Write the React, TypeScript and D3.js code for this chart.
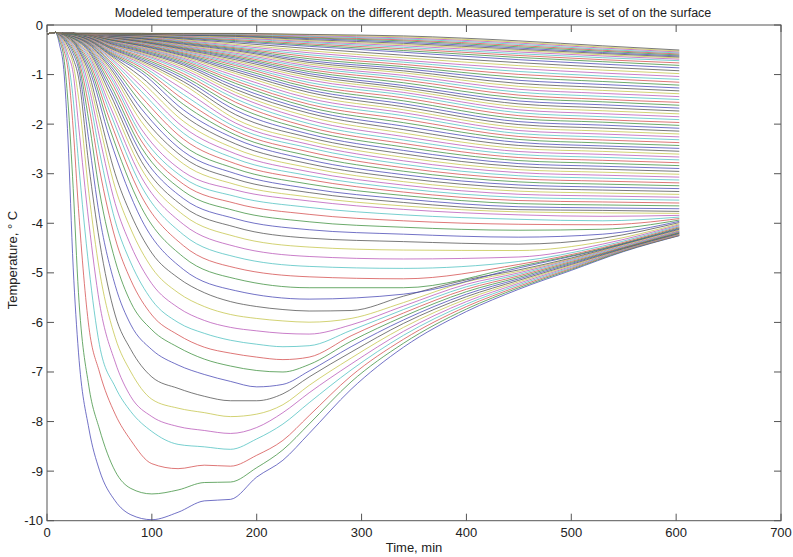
import React from "react";
import * as d3 from "d3";

const chartTitle =
  "Modeled temperature of the snowpack on the different depth. Measured temperature is set of on the surface";
const xLabel = "Time, min";
const yLabel = "Temperature, \u00b0 C";
const xTicks = [0, 100, 200, 300, 400, 500, 600, 700];
const yTicks = [0, -1, -2, -3, -4, -5, -6, -7, -8, -9, -10];

// MATLAB default colour order (as rendered, slightly washed out)
const lineColors = ["#4646b4", "#3c8f3c", "#d44c4c", "#4cc0c0", "#b856b8", "#c4c448", "#505050"];

// time grid for the 14 shallowest layers (lowest curves)
const timesShallow = [0, 8, 12, 16, 20, 25, 30, 40, 50, 65, 80, 100, 125, 150, 175, 200, 225, 250, 290, 340, 400, 450, 500, 550, 603];
// time grid for deeper layers
const timesDeep = [0, 8, 15, 25, 40, 60, 90, 130, 180, 250, 340, 450, 530, 603];

const shallowTemps: number[][] = [
  [-0.18, -0.15, -0.4, -0.9, -2.3, -4.9, -6.6, -8.15, -8.98, -9.6, -9.88, -9.98, -9.83, -9.6, -9.57, -9.12, -8.78, -8.24, -7.35, -6.5, -5.78, -5.33, -4.95, -4.57, -4.25],
  [-0.18, -0.15, -0.32, -0.65, -1.55, -3.3, -5.4, -7.3, -8.15, -9.0, -9.35, -9.46, -9.38, -9.23, -9.22, -8.93, -8.57, -8.05, -7.2, -6.42, -5.73, -5.3, -4.93, -4.56, -4.245],
  [-0.18, -0.15, -0.27, -0.5, -0.9, -2.1, -3.7, -6.1, -7.0, -7.85, -8.38, -8.85, -8.95, -8.88, -8.9, -8.68, -8.38, -7.88, -7.08, -6.34, -5.68, -5.27, -4.91, -4.55, -4.24],
  [-0.18, -0.15, -0.24, -0.42, -0.72, -1.5, -2.75, -4.9, -6.45, -7.3, -7.8, -8.2, -8.46, -8.51, -8.56, -8.35, -8.05, -7.62, -6.96, -6.26, -5.63, -5.24, -4.89, -4.54, -4.23],
  [-0.18, -0.15, -0.22, -0.36, -0.6, -0.98, -2.0, -4.0, -5.6, -6.8, -7.5, -7.9, -8.1, -8.18, -8.24, -8.12, -7.82, -7.42, -6.84, -6.18, -5.58, -5.21, -4.87, -4.53, -4.225],
  [-0.18, -0.15, -0.21, -0.32, -0.5, -0.8, -1.45, -3.4, -4.95, -6.3, -7.0, -7.55, -7.73, -7.82, -7.9, -7.85, -7.66, -7.27, -6.72, -6.1, -5.53, -5.18, -4.85, -4.52, -4.215],
  [-0.18, -0.15, -0.2, -0.29, -0.43, -0.68, -1.05, -2.85, -4.35, -5.85, -6.55, -7.1, -7.33, -7.49, -7.58, -7.58, -7.44, -7.1, -6.6, -6.02, -5.48, -5.15, -4.83, -4.51, -4.205],
  [-0.18, -0.15, -0.19, -0.27, -0.38, -0.58, -0.88, -2.35, -3.85, -5.25, -6.05, -6.55, -6.86, -7.05, -7.19, -7.3, -7.25, -6.98, -6.49, -5.95, -5.43, -5.12, -4.81, -4.5, -4.195],
  [-0.18, -0.15, -0.19, -0.25, -0.35, -0.52, -0.78, -1.95, -3.35, -4.75, -5.6, -6.15, -6.5, -6.74, -6.88, -6.97, -7.0, -6.85, -6.38, -5.88, -5.38, -5.09, -4.79, -4.49, -4.185],
  [-0.18, -0.15, -0.18, -0.24, -0.32, -0.47, -0.7, -1.65, -2.9, -4.3, -5.15, -5.85, -6.25, -6.5, -6.62, -6.7, -6.75, -6.7, -6.27, -5.81, -5.33, -5.06, -4.77, -4.48, -4.17],
  [-0.18, -0.15, -0.18, -0.23, -0.3, -0.43, -0.63, -1.42, -2.55, -3.95, -4.8, -5.55, -6.0, -6.22, -6.36, -6.44, -6.49, -6.47, -6.16, -5.74, -5.28, -5.03, -4.75, -4.465, -4.16],
  [-0.18, -0.15, -0.18, -0.22, -0.28, -0.4, -0.57, -1.25, -2.25, -3.6, -4.45, -5.22, -5.7, -5.96, -6.1, -6.17, -6.22, -6.235, -6.05, -5.67, -5.23, -5.0, -4.73, -4.45, -4.15],
  [-0.18, -0.15, -0.17, -0.21, -0.27, -0.37, -0.53, -1.1, -2.0, -3.28, -4.12, -4.9, -5.4, -5.68, -5.84, -5.92, -5.97, -5.995, -5.92, -5.6, -5.18, -4.97, -4.715, -4.435, -4.135],
  [-0.18, -0.15, -0.17, -0.2, -0.26, -0.35, -0.5, -0.98, -1.8, -3.0, -3.82, -4.6, -5.1, -5.4, -5.58, -5.68, -5.74, -5.77, -5.76, -5.47, -5.14, -4.94, -4.7, -4.42, -4.12],
];

const deepTemps: number[][] = [
  [-0.18, -0.15, -0.18, -0.33, -0.88, -2.3, -3.92, -4.93, -5.36, -5.53, -5.43, -4.9, -4.52, -4.105],
  [-0.18, -0.15, -0.18, -0.32, -0.8, -2.1, -3.68, -4.68, -5.12, -5.3, -5.3, -4.87, -4.51, -4.09],
  [-0.18, -0.15, -0.18, -0.31, -0.73, -1.92, -3.45, -4.45, -4.9, -5.08, -5.12, -4.83, -4.49, -4.07],
  [-0.18, -0.15, -0.18, -0.3, -0.67, -1.76, -3.25, -4.23, -4.68, -4.87, -4.91, -4.77, -4.46, -4.05],
  [-0.18, -0.15, -0.18, -0.29, -0.62, -1.63, -3.07, -4.02, -4.47, -4.67, -4.72, -4.68, -4.42, -4.03],
  [-0.18, -0.15, -0.18, -0.28, -0.58, -1.5, -2.9, -3.83, -4.27, -4.48, -4.54, -4.55, -4.37, -4.01],
  [-0.18, -0.15, -0.18, -0.27, -0.54, -1.38, -2.75, -3.66, -4.08, -4.3, -4.37, -4.42, -4.3, -3.985],
  [-0.18, -0.15, -0.18, -0.26, -0.51, -1.28, -2.6, -3.5, -3.91, -4.13, -4.22, -4.28, -4.22, -3.96],
  [-0.18, -0.15, -0.18, -0.26, -0.48, -1.19, -2.47, -3.35, -3.75, -3.97, -4.08, -4.14, -4.12, -3.935],
  [-0.18, -0.15, -0.17, -0.25, -0.46, -1.1, -2.34, -3.21, -3.6, -3.82, -3.95, -4.02, -4.03, -3.905],
  [-0.18, -0.15, -0.17, -0.25, -0.44, -1.03, -2.22, -3.08, -3.46, -3.68, -3.83, -3.92, -3.95, -3.875],
  [-0.18, -0.15, -0.17, -0.24, -0.42, -0.97, -2.1, -2.96, -3.33, -3.55, -3.72, -3.83, -3.86, -3.84],
  [-0.18, -0.15, -0.17, -0.235, -0.405, -0.91, -1.95, -2.8, -3.22, -3.47, -3.65, -3.77, -3.79, -3.8],
  [-0.18, -0.15, -0.17, -0.23, -0.39, -0.86, -1.82, -2.67, -3.11, -3.38, -3.58, -3.725, -3.74, -3.76],
  [-0.18, -0.15, -0.17, -0.225, -0.375, -0.81, -1.69, -2.55, -3.0, -3.3, -3.51, -3.667, -3.69, -3.707],
  [-0.18, -0.15, -0.17, -0.22, -0.36, -0.76, -1.57, -2.43, -2.9, -3.21, -3.44, -3.604, -3.63, -3.649],
  [-0.18, -0.15, -0.17, -0.215, -0.35, -0.72, -1.45, -2.3, -2.8, -3.12, -3.37, -3.541, -3.57, -3.591],
  [-0.18, -0.15, -0.17, -0.21, -0.34, -0.68, -1.34, -2.18, -2.7, -3.04, -3.3, -3.478, -3.51, -3.533],
  [-0.18, -0.15, -0.17, -0.205, -0.33, -0.65, -1.24, -2.06, -2.6, -2.96, -3.23, -3.415, -3.45, -3.475],
  [-0.18, -0.15, -0.17, -0.2, -0.32, -0.62, -1.14, -1.94, -2.5, -2.88, -3.16, -3.352, -3.39, -3.417],
  [-0.18, -0.15, -0.17, -0.195, -0.31, -0.6, -1.05, -1.82, -2.4, -2.8, -3.09, -3.289, -3.33, -3.359],
  [-0.18, -0.15, -0.17, -0.19, -0.3, -0.58, -0.96, -1.71, -2.3, -2.72, -3.02, -3.227, -3.27, -3.301],
  [-0.18, -0.15, -0.17, -0.19, -0.29, -0.56, -0.91, -1.6, -2.22, -2.64, -2.95, -3.165, -3.21, -3.243],
  [-0.18, -0.15, -0.17, -0.185, -0.28, -0.54, -0.86, -1.5, -2.14, -2.56, -2.88, -3.103, -3.15, -3.185],
  [-0.18, -0.15, -0.17, -0.185, -0.27, -0.52, -0.82, -1.4, -2.06, -2.48, -2.81, -3.041, -3.09, -3.127],
  [-0.18, -0.15, -0.17, -0.18, -0.265, -0.5, -0.78, -1.3, -1.98, -2.41, -2.74, -2.979, -3.03, -3.069],
  [-0.18, -0.15, -0.17, -0.18, -0.26, -0.48, -0.75, -1.2, -1.9, -2.34, -2.67, -2.918, -2.97, -3.011],
  [-0.18, -0.15, -0.17, -0.18, -0.255, -0.465, -0.72, -1.14, -1.81, -2.27, -2.6, -2.857, -2.91, -2.953],
  [-0.18, -0.15, -0.17, -0.18, -0.25, -0.45, -0.69, -1.08, -1.72, -2.2, -2.53, -2.796, -2.85, -2.895],
  [-0.18, -0.15, -0.17, -0.18, -0.24, -0.435, -0.66, -1.03, -1.64, -2.13, -2.46, -2.735, -2.79, -2.837],
  [-0.18, -0.15, -0.17, -0.18, -0.235, -0.42, -0.63, -0.98, -1.56, -2.06, -2.39, -2.674, -2.73, -2.779],
  [-0.18, -0.15, -0.17, -0.18, -0.23, -0.4, -0.6, -0.93, -1.49, -1.99, -2.32, -2.613, -2.67, -2.721],
  [-0.18, -0.15, -0.17, -0.18, -0.225, -0.39, -0.58, -0.89, -1.42, -1.92, -2.25, -2.552, -2.61, -2.663],
  [-0.18, -0.15, -0.17, -0.18, -0.22, -0.38, -0.56, -0.85, -1.36, -1.85, -2.18, -2.491, -2.55, -2.605],
  [-0.18, -0.15, -0.17, -0.18, -0.215, -0.37, -0.54, -0.81, -1.3, -1.78, -2.11, -2.43, -2.49, -2.547],
  [-0.18, -0.15, -0.17, -0.18, -0.21, -0.355, -0.52, -0.78, -1.24, -1.72, -2.04, -2.369, -2.44, -2.489],
  [-0.18, -0.15, -0.17, -0.18, -0.21, -0.34, -0.5, -0.75, -1.18, -1.66, -1.97, -2.309, -2.38, -2.431],
  [-0.18, -0.15, -0.17, -0.17, -0.205, -0.335, -0.48, -0.72, -1.13, -1.6, -1.9, -2.249, -2.32, -2.373],
  [-0.18, -0.15, -0.17, -0.17, -0.205, -0.33, -0.465, -0.695, -1.08, -1.54, -1.83, -2.189, -2.26, -2.315],
  [-0.18, -0.15, -0.17, -0.17, -0.2, -0.32, -0.45, -0.67, -1.03, -1.48, -1.77, -2.129, -2.2, -2.257],
  [-0.18, -0.15, -0.17, -0.17, -0.2, -0.31, -0.435, -0.645, -0.98, -1.42, -1.71, -2.069, -2.14, -2.199],
  [-0.18, -0.15, -0.17, -0.17, -0.2, -0.3, -0.42, -0.62, -0.94, -1.36, -1.65, -2.009, -2.08, -2.141],
  [-0.18, -0.15, -0.17, -0.17, -0.195, -0.295, -0.41, -0.6, -0.9, -1.31, -1.59, -1.949, -2.02, -2.083],
  [-0.18, -0.15, -0.17, -0.17, -0.195, -0.29, -0.395, -0.58, -0.86, -1.26, -1.53, -1.889, -1.96, -2.025],
  [-0.18, -0.15, -0.17, -0.17, -0.195, -0.28, -0.385, -0.56, -0.82, -1.21, -1.47, -1.829, -1.91, -1.967],
  [-0.18, -0.15, -0.17, -0.17, -0.19, -0.27, -0.37, -0.54, -0.79, -1.16, -1.41, -1.769, -1.85, -1.909],
  [-0.18, -0.15, -0.17, -0.17, -0.19, -0.26, -0.36, -0.52, -0.76, -1.11, -1.36, -1.711, -1.79, -1.851],
  [-0.18, -0.15, -0.17, -0.17, -0.19, -0.255, -0.35, -0.505, -0.73, -1.065, -1.31, -1.651, -1.73, -1.793],
  [-0.18, -0.15, -0.17, -0.17, -0.19, -0.25, -0.34, -0.49, -0.7, -1.02, -1.265, -1.592, -1.67, -1.735],
  [-0.18, -0.15, -0.17, -0.17, -0.19, -0.245, -0.33, -0.475, -0.67, -0.98, -1.22, -1.533, -1.61, -1.677],
  [-0.18, -0.15, -0.17, -0.17, -0.19, -0.24, -0.32, -0.46, -0.645, -0.94, -1.165, -1.474, -1.55, -1.619],
  [-0.18, -0.15, -0.17, -0.17, -0.19, -0.24, -0.31, -0.445, -0.62, -0.9, -1.11, -1.415, -1.5, -1.561],
  [-0.18, -0.15, -0.17, -0.17, -0.185, -0.235, -0.3, -0.43, -0.595, -0.86, -1.06, -1.356, -1.44, -1.503],
  [-0.18, -0.15, -0.17, -0.17, -0.185, -0.23, -0.29, -0.415, -0.57, -0.825, -1.015, -1.297, -1.38, -1.445],
  [-0.18, -0.15, -0.17, -0.17, -0.185, -0.225, -0.285, -0.4, -0.545, -0.79, -0.965, -1.238, -1.32, -1.387],
  [-0.18, -0.15, -0.17, -0.17, -0.185, -0.22, -0.275, -0.385, -0.52, -0.755, -0.925, -1.179, -1.26, -1.329],
  [-0.18, -0.15, -0.17, -0.17, -0.18, -0.22, -0.27, -0.37, -0.5, -0.72, -0.88, -1.116, -1.2, -1.271],
  [-0.18, -0.15, -0.17, -0.17, -0.18, -0.215, -0.26, -0.355, -0.48, -0.68, -0.84, -1.056, -1.14, -1.213],
  [-0.18, -0.15, -0.17, -0.17, -0.18, -0.21, -0.252, -0.34, -0.46, -0.64, -0.795, -0.997, -1.08, -1.155],
  [-0.18, -0.15, -0.17, -0.17, -0.18, -0.21, -0.244, -0.325, -0.44, -0.6, -0.75, -0.938, -1.03, -1.097],
  [-0.18, -0.15, -0.17, -0.17, -0.18, -0.205, -0.236, -0.31, -0.415, -0.56, -0.71, -0.879, -0.97, -1.039],
  [-0.18, -0.15, -0.17, -0.17, -0.18, -0.2, -0.228, -0.295, -0.39, -0.52, -0.66, -0.82, -0.91, -0.981],
  [-0.18, -0.15, -0.17, -0.17, -0.18, -0.2, -0.22, -0.28, -0.36, -0.475, -0.61, -0.76, -0.85, -0.923],
  [-0.18, -0.15, -0.17, -0.17, -0.18, -0.195, -0.215, -0.265, -0.335, -0.43, -0.55, -0.7, -0.79, -0.865],
  [-0.18, -0.15, -0.17, -0.17, -0.18, -0.19, -0.21, -0.255, -0.315, -0.405, -0.515, -0.655, -0.74, -0.815],
  [-0.18, -0.15, -0.17, -0.17, -0.18, -0.19, -0.205, -0.245, -0.295, -0.38, -0.48, -0.615, -0.7, -0.765],
  [-0.18, -0.15, -0.17, -0.17, -0.175, -0.185, -0.2, -0.235, -0.275, -0.355, -0.45, -0.58, -0.66, -0.72],
  [-0.18, -0.15, -0.17, -0.17, -0.175, -0.185, -0.195, -0.225, -0.26, -0.335, -0.42, -0.545, -0.625, -0.69],
  [-0.18, -0.15, -0.17, -0.17, -0.175, -0.18, -0.19, -0.215, -0.245, -0.315, -0.395, -0.515, -0.6, -0.665],
  [-0.18, -0.15, -0.17, -0.17, -0.17, -0.18, -0.185, -0.205, -0.23, -0.295, -0.37, -0.49, -0.575, -0.645],
  [-0.18, -0.15, -0.17, -0.17, -0.17, -0.175, -0.18, -0.2, -0.22, -0.275, -0.345, -0.465, -0.555, -0.625],
  [-0.18, -0.15, -0.17, -0.17, -0.17, -0.175, -0.18, -0.195, -0.21, -0.26, -0.32, -0.44, -0.53, -0.605],
  [-0.18, -0.15, -0.17, -0.17, -0.17, -0.17, -0.175, -0.19, -0.2, -0.245, -0.3, -0.415, -0.51, -0.585],
  [-0.18, -0.15, -0.17, -0.17, -0.17, -0.17, -0.17, -0.185, -0.19, -0.23, -0.28, -0.39, -0.49, -0.565],
  [-0.18, -0.15, -0.17, -0.17, -0.17, -0.17, -0.17, -0.18, -0.18, -0.215, -0.26, -0.365, -0.465, -0.545],
  [-0.18, -0.15, -0.17, -0.17, -0.17, -0.17, -0.17, -0.175, -0.175, -0.2, -0.24, -0.345, -0.445, -0.525],
  [-0.18, -0.15, -0.17, -0.17, -0.17, -0.17, -0.17, -0.17, -0.17, -0.19, -0.22, -0.32, -0.42, -0.505],
];

const W = 793;
const H = 557;
const FONT = "'Liberation Sans', Arial, Helvetica, sans-serif";

export default function App() {
  const x = d3.scaleLinear().domain([0, 700]).range([47, 781]);
  const y = d3.scaleLinear().domain([-10, 0]).range([520.7, 25]);
  const line = d3
    .line<[number, number]>()
    .x((d) => x(d[0]))
    .y((d) => y(d[1]))
    .curve(d3.curveMonotoneX);

  const series: [number, number][][] = [
    ...shallowTemps.map((row) => timesShallow.map((t, i) => [t, row[i]] as [number, number])),
    ...deepTemps.map((row) => timesDeep.map((t, i) => [t, row[i]] as [number, number])),
  ];

  const [x0, x1] = x.range();
  const [yb, yt] = y.range();
  const tick = 7;
  const axisColor = "#555555";

  return (
    <svg
      width={W}
      height={H}
      style={{ position: "absolute", left: 0, top: 0, background: "#fff" }}
      fontFamily={FONT}
    >
      <rect x={0} y={0} width={W} height={H} fill="#fff" />
      <defs>
        <clipPath id="plotclip">
          <rect x={x0} y={yt} width={x1 - x0} height={yb - yt} />
        </clipPath>
      </defs>
      <g clipPath="url(#plotclip)">
        {series.map((s, i) => (
          <path
            key={i}
            d={line(s) || ""}
            fill="none"
            stroke={lineColors[i % lineColors.length]}
            strokeWidth={0.9}
            strokeOpacity={0.85}
          />
        ))}
      </g>
      <rect x={x0} y={yt} width={x1 - x0} height={yb - yt} fill="none" stroke={axisColor} strokeWidth={1} />
      {xTicks.map((t) => (
        <g key={"xt" + t}>
          <line x1={x(t)} x2={x(t)} y1={yb} y2={yb - tick} stroke={axisColor} />
          <line x1={x(t)} x2={x(t)} y1={yt} y2={yt + tick} stroke={axisColor} />
          <text x={x(t)} y={537} fontSize={13} textAnchor="middle" fill="#222">
            {t}
          </text>
        </g>
      ))}
      {yTicks.map((t) => (
        <g key={"yt" + t}>
          <line x1={x0} x2={x0 + tick} y1={y(t)} y2={y(t)} stroke={axisColor} />
          <line x1={x1} x2={x1 - tick} y1={y(t)} y2={y(t)} stroke={axisColor} />
          <text x={43} y={y(t) + 4.5} fontSize={13} textAnchor="end" fill="#222">
            {t}
          </text>
        </g>
      ))}
      <text x={(x0 + x1) / 2} y={552} fontSize={13} textAnchor="middle" fill="#222">
        {xLabel}
      </text>
      <text
        transform={`translate(16.5, 260) rotate(-90)`}
        fontSize={13}
        textAnchor="middle"
        fill="#222"
      >
        {yLabel}
      </text>
      <text x={(x0 + x1) / 2 - 1} y={17} fontSize={12.5} textAnchor="middle" fill="#222">
        {chartTitle}
      </text>
    </svg>
  );
}
